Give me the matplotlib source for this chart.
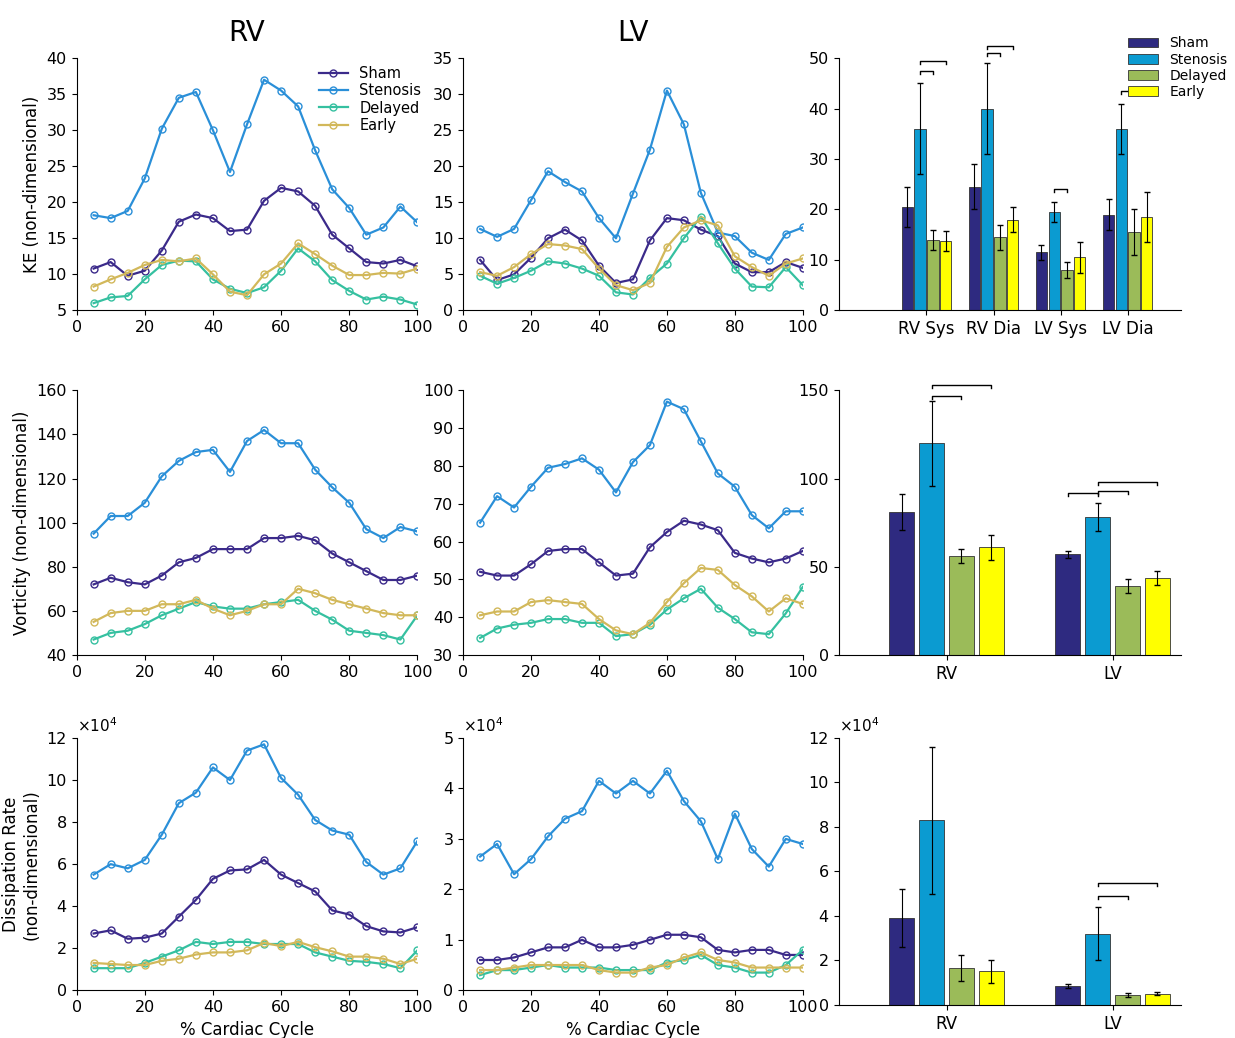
import numpy as np
import matplotlib.pyplot as plt

x = np.arange(5, 101, 5)
groups = ["Sham", "Stenosis", "Delayed", "Early"]
line_cols = ["#3b2a8a", "#2a8fd8", "#35c0a0", "#d2b85a"]
bar_cols = ["#2e2a80", "#0b9bd1", "#9bbb59", "#ffff00"]

# KE
ke_rv = [
    [10.8, 11.7, 9.8, 10.5, 13.3, 17.3, 18.3, 17.8, 16, 16.2, 20.2, 22, 21.5, 19.5, 15.5, 13.6, 11.7, 11.5, 12, 11.1],
    [18.2, 17.8, 18.8, 23.3, 30.2, 34.5, 35.3, 30, 24.2, 30.8, 37, 35.5, 33.3, 27.2, 21.8, 19.2, 15.5, 16.5, 19.4, 17.2],
    [6, 6.8, 7, 9.3, 11.3, 11.9, 11.8, 9.3, 8, 7.4, 8.2, 10.5, 13.6, 11.8, 9.2, 7.7, 6.5, 6.9, 6.5, 5.8],
    [8.3, 9.3, 10.2, 11.3, 12, 11.8, 12.2, 10, 7.6, 7.1, 10, 11.5, 14.3, 12.8, 11.2, 9.9, 9.9, 10.2, 10.1, 10.8],
]
ke_lv = [
    [7, 4.2, 5, 7.3, 10, 11.2, 9.7, 6.2, 3.8, 4.3, 9.7, 12.8, 12.5, 11.2, 10.3, 6.5, 5.3, 5.3, 6.7, 5.9],
    [11.3, 10.2, 11.3, 15.3, 19.3, 17.8, 16.5, 12.8, 10, 16.2, 22.3, 30.5, 25.8, 16.3, 10.8, 10.3, 8, 7, 10.6, 11.5],
    [4.8, 3.7, 4.5, 5.5, 6.8, 6.5, 5.8, 4.8, 2.5, 2.2, 4.5, 6.5, 10, 13, 9.3, 5.8, 3.3, 3.2, 6, 3.5],
    [5.3, 4.8, 6, 7.8, 9.2, 9, 8.5, 5.8, 3.5, 2.8, 3.8, 8.8, 11.5, 12.5, 11.8, 7.5, 6, 4.8, 6.5, 7.2],
]
# Vorticity
vo_rv = [
    [72, 75, 73, 72, 76, 82, 84, 88, 88, 88, 93, 93, 94, 92, 86, 82, 78, 74, 74, 76],
    [95, 103, 103, 109, 121, 128, 132, 133, 123, 137, 142, 136, 136, 124, 116, 109, 97, 93, 98, 96],
    [47, 50, 51, 54, 58, 61, 64, 62, 61, 61, 63, 64, 65, 60, 56, 51, 50, 49, 47, 58],
    [55, 59, 60, 60, 63, 63, 65, 61, 58, 60, 63, 63, 70, 68, 65, 63, 61, 59, 58, 58],
]
vo_lv = [
    [52, 51, 51, 54, 57.5, 58, 58, 54.5, 51, 51.5, 58.5, 62.5, 65.5, 64.5, 63, 57, 55.5, 54.5, 55.5, 57.5],
    [65, 72, 69, 74.5, 79.5, 80.5, 82, 79, 73, 81, 85.5, 97, 95, 86.5, 78, 74.5, 67, 63.5, 68, 68],
    [34.5, 37, 38, 38.5, 39.5, 39.5, 38.5, 38.5, 35, 35.5, 38, 42, 45, 47.5, 42.5, 39.5, 36, 35.5, 41, 48],
    [40.5, 41.5, 41.5, 44, 44.5, 44, 43.5, 39.5, 36.5, 35.5, 38.5, 44, 49, 53, 52.5, 48.5, 45.5, 41.5, 45, 43.5],
]
# Dissipation (x1e4)
di_rv = [
    [2.7, 2.85, 2.45, 2.5, 2.7, 3.5, 4.3, 5.3, 5.7, 5.75, 6.2, 5.5, 5.1, 4.7, 3.8, 3.6, 3.05, 2.8, 2.75, 3.0],
    [5.5, 6, 5.8, 6.2, 7.4, 8.9, 9.4, 10.6, 10, 11.4, 11.7, 10.1, 9.3, 8.1, 7.6, 7.4, 6.1, 5.5, 5.8, 7.1],
    [1.05, 1.05, 1.05, 1.3, 1.6, 1.9, 2.3, 2.2, 2.3, 2.3, 2.2, 2.2, 2.2, 1.8, 1.6, 1.4, 1.35, 1.25, 1.05, 1.9],
    [1.3, 1.25, 1.2, 1.2, 1.4, 1.5, 1.7, 1.8, 1.8, 1.9, 2.25, 2.1, 2.3, 2.05, 1.85, 1.6, 1.6, 1.5, 1.25, 1.5],
]
di_lv = [
    [0.6, 0.6, 0.65, 0.75, 0.85, 0.85, 1.0, 0.85, 0.85, 0.9, 1.0, 1.1, 1.1, 1.05, 0.8, 0.75, 0.8, 0.8, 0.7, 0.7],
    [2.65, 2.9, 2.3, 2.6, 3.05, 3.4, 3.55, 4.15, 3.9, 4.15, 3.9, 4.35, 3.75, 3.35, 2.6, 3.5, 2.8, 2.45, 3.0, 2.9],
    [0.3, 0.4, 0.4, 0.45, 0.5, 0.45, 0.45, 0.45, 0.4, 0.4, 0.4, 0.55, 0.6, 0.7, 0.5, 0.45, 0.35, 0.35, 0.5, 0.8],
    [0.4, 0.4, 0.45, 0.5, 0.5, 0.5, 0.5, 0.4, 0.35, 0.35, 0.45, 0.5, 0.65, 0.75, 0.6, 0.55, 0.45, 0.45, 0.45, 0.45],
]

# bar summaries: [group][category]
ke_cats = ["RV Sys", "RV Dia", "LV Sys", "LV Dia"]
ke_mean = [[20.5, 24.5, 11.5, 19], [36, 40, 19.5, 36], [14, 14.5, 8, 15.5], [13.8, 18, 10.5, 18.5]]
ke_err = [[4, 4.5, 1.5, 3], [9, 9, 2, 5], [2, 2.5, 1.5, 4.5], [2, 2.5, 3, 5]]
vo_cats = ["RV", "LV"]
vo_mean = [[81, 57], [120, 78], [56, 39], [61, 43.5]]
vo_err = [[10, 2], [24, 8], [4, 4], [7, 4]]
di_mean = [[3.9, 0.85], [8.3, 3.2], [1.65, 0.45], [1.5, 0.5]]
di_err = [[1.3, 0.1], [3.3, 1.2], [0.6, 0.1], [0.5, 0.07]]

fig = plt.figure(figsize=(12.35, 10.38), dpi=100)
plt.rcParams['font.size'] = 11.5

cols = [0.062, 0.375, 0.679]
rows = [(0.701, 0.243), (0.369, 0.255), (0.046, 0.243)]


def line_panel(ax, data, ylim, yticks, ylabel=None, xlabel=None, sci=False):
    for d, c, g in zip(data, line_cols, groups):
        ax.plot(x, d, '-o', color=c, mfc='none', ms=5, lw=1.6, label=g)
    ax.set_xlim(0, 100)
    ax.set_ylim(*ylim)
    ax.set_yticks(yticks)
    ax.set_xticks(range(0, 101, 20))
    if ylabel:
        ax.set_ylabel(ylabel, fontsize=12)
    if xlabel:
        ax.set_xlabel(xlabel, fontsize=12)
    for s in ['top', 'right']:
        ax.spines[s].set_visible(False)
    if sci:
        ax.text(0.0, 1.01, r"$\times10^4$", transform=ax.transAxes, fontsize=11, va='bottom')


def bar_panel(ax, cats, mean, err, ylim, yticks, brackets, w, step, xlim, sci=False):
    n = len(cats)
    pos = np.arange(n)
    for i in range(4):
        xs = pos + (i - 1.5) * step
        ax.bar(xs, mean[i], w, yerr=err[i], color=bar_cols[i], edgecolor='#333333',
               lw=0.6, capsize=2, error_kw=dict(lw=0.8), label=groups[i])
    ax.set_xticks(pos)
    ax.set_xticklabels(cats, fontsize=12)
    ax.set_ylim(*ylim)
    ax.set_yticks(yticks)
    ax.set_xlim(*xlim)
    for s in ['top', 'right']:
        ax.spines[s].set_visible(False)
    tick = (ylim[1] - ylim[0]) * 0.012
    for c, i1, i2, y in brackets:
        x1 = c + (i1 - 1.5) * step
        x2 = c + (i2 - 1.5) * step
        ax.plot([x1, x1, x2, x2], [y - tick, y, y, y - tick], color='k', lw=1, clip_on=False)
    if sci:
        ax.text(0.0, 1.01, r"$\times10^4$", transform=ax.transAxes, fontsize=11, va='bottom')


ax = fig.add_axes([cols[0], rows[0][0], 0.276, rows[0][1]])
line_panel(ax, ke_rv, (5, 40), range(5, 41, 5), "KE (non-dimensional)")
ax.legend(loc='upper right', bbox_to_anchor=(1.05, 1.02), frameon=False, fontsize=10.5,
          handlelength=2, labelspacing=0.15)
ax.set_title("RV", fontsize=20, pad=12)
ax = fig.add_axes([cols[1], rows[0][0], 0.275, rows[0][1]])
line_panel(ax, ke_lv, (0, 35), range(0, 36, 5))
ax.set_title("LV", fontsize=20, pad=12)
ax = fig.add_axes([cols[2], rows[0][0], 0.277, rows[0][1]])
bar_panel(ax, ke_cats, ke_mean, ke_err, (0, 50), range(0, 51, 10),
          [(0, 1, 2, 47.5), (0, 1, 3, 49.5), (1, 1, 2, 51), (1, 1, 3, 52.5),
           (2, 1, 2, 24), (3, 1, 2, 43.5)],
          w=0.17, step=0.19, xlim=(-1.31, 3.79))
ax.legend(loc='upper right', bbox_to_anchor=(1.17, 1.13), fontsize=10, frameon=False,
          handlelength=2.2, borderpad=0.3, labelspacing=0.15)

ax = fig.add_axes([cols[0], rows[1][0], 0.276, rows[1][1]])
line_panel(ax, vo_rv, (40, 160), range(40, 161, 20), "Vorticity (non-dimensional)")
ax = fig.add_axes([cols[1], rows[1][0], 0.275, rows[1][1]])
line_panel(ax, vo_lv, (30, 100), range(30, 101, 10))
ax = fig.add_axes([cols[2], rows[1][0], 0.277, rows[1][1]])
bar_panel(ax, vo_cats, vo_mean, vo_err, (0, 150), range(0, 151, 50),
          [(0, 1, 2, 147), (0, 1, 3, 153), (1, 0, 1, 92), (1, 1, 2, 93), (1, 1, 3, 98)],
          w=0.15, step=0.18, xlim=(-0.65, 1.41))

ax = fig.add_axes([cols[0], rows[2][0], 0.276, rows[2][1]])
line_panel(ax, di_rv, (0, 12), range(0, 13, 2), "Dissipation Rate\n(non-dimensional)",
           "% Cardiac Cycle", sci=True)
ax = fig.add_axes([cols[1], rows[2][0], 0.275, rows[2][1]])
line_panel(ax, di_lv, (0, 5), range(0, 6, 1), xlabel="% Cardiac Cycle", sci=True)
ax = fig.add_axes([cols[2], 0.032, 0.277, 0.257])
bar_panel(ax, vo_cats, di_mean, di_err, (0, 12), range(0, 13, 2),
          [(1, 1, 2, 4.9), (1, 1, 3, 5.5)],
          w=0.15, step=0.18, xlim=(-0.65, 1.41), sci=True)

plt.savefig("out.png", dpi=100)
